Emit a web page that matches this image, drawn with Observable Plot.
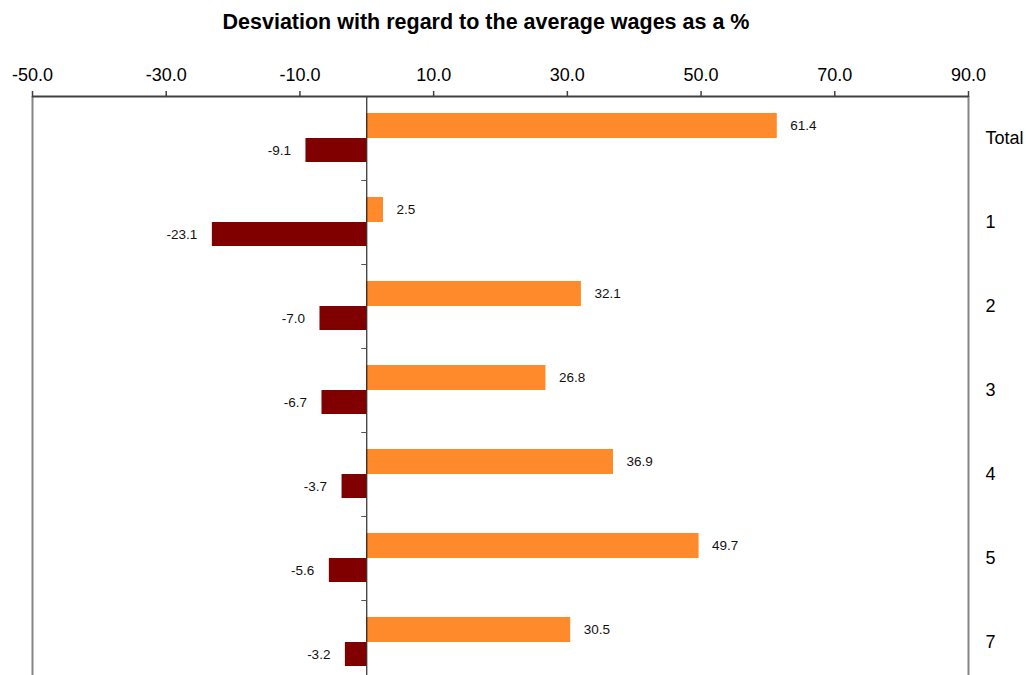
<!DOCTYPE html>
<html><head><meta charset="utf-8">
<script src="https://cdn.jsdelivr.net/npm/d3@7"></script>
<script src="https://cdn.jsdelivr.net/npm/@observablehq/plot@0.6"></script>
<style>
body{margin:0;background:#fff;font-family:"Liberation Sans",Arial,sans-serif;overflow:hidden;}
#title{height:40px;box-sizing:border-box;padding-top:10px;font-weight:bold;font-size:21.5px;text-align:center;width:972px;color:#000;}
</style></head><body>
<div id="title">Desviation with regard to the average wages as a %</div>
<div id="chart"></div>
<script>
const categories = ["Total", "1", "2", "3", "4", "5", "7"];
const positive = [61.4, 2.5, 32.1, 26.8, 36.9, 49.7, 30.5];
const negative = [-9.1, -23.1, -7.0, -6.7, -3.7, -5.6, -3.2];
const xTicks = [-50, -30, -10, 10, 30, 50, 70, 90];

const pos = categories.map((c, i) => ({category: c, value: positive[i]}));
const neg = categories.map((c, i) => ({category: c, value: negative[i]}));

const chart = Plot.plot({
  width: 1034,
  height: 654,
  marginTop: 56,
  marginBottom: 10,
  marginLeft: 32,
  marginRight: 66,
  style: {fontFamily: "'Liberation Sans', Arial, sans-serif", fontSize: "18px", background: "white", color: "black", overflow: "visible"},
  x: {domain: [-50, 90]},
  y: {domain: categories, padding: 0},
  marks: [
    Plot.ruleX([-50, 90], {stroke: "#858585", strokeWidth: 2}),
    Plot.barX(pos, {x: "value", y: "category", fill: "#FF8A2B", insetTop: 17, insetBottom: 42}),
    Plot.barX(neg, {x: "value", y: "category", fill: "#800000", insetTop: 42, insetBottom: 18}),
    Plot.ruleX([0], {stroke: "black", strokeWidth: 1}),
    Plot.ruleY(categories.slice(1), {x1: 0, x2: 0, insetLeft: -5, dy: -42, stroke: "#555", strokeWidth: 1}),
    Plot.ruleY([categories[0]], {dy: -42, stroke: "#404040", strokeWidth: 2}),
    Plot.text(pos, {x: "value", y: "category", text: d => d.value.toFixed(1), textAnchor: "start", dx: 13, dy: -12.5, fontSize: 13.5, fill: "#111"}),
    Plot.text(neg, {x: "value", y: "category", text: d => d.value.toFixed(1), textAnchor: "end", dx: -15, dy: 12, fontSize: 13.5, fill: "#111"}),
    Plot.axisX({anchor: "top", ticks: xTicks, tickFormat: d => d.toFixed(1), tickSize: 6, tickPadding: 10, stroke: "#404040", strokeWidth: 1.5, fill: "black", label: null}),
    Plot.axisY({anchor: "right", tickSize: 0, tickPadding: 17, fill: "black", label: null})
  ]
});
document.getElementById("chart").appendChild(chart);
</script>
</body></html>
